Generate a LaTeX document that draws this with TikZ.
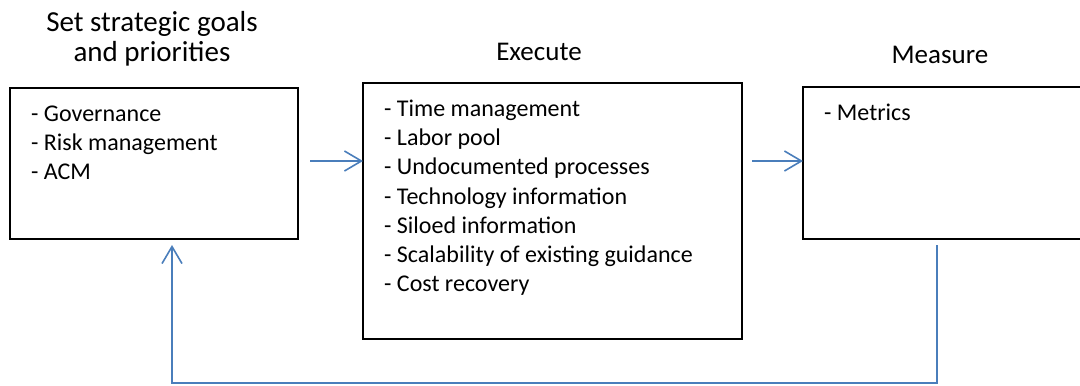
\documentclass[tikz,border=0pt]{standalone}
\usepackage{fontspec}
\setmainfont{Carlito}
\usetikzlibrary{arrows.meta}
\definecolor{flowblue}{HTML}{4A7EBB}
\begin{document}
\begin{tikzpicture}[x=1bp,y=-1bp,
  box/.style={draw=black, line width=2bp, inner sep=0pt, outer sep=0pt, anchor=north west},
  title/.style={font=\fontsize{27bp}{29.5bp}\selectfont, align=center, inner sep=0pt, anchor=base},
  bigtitle/.style={title, font=\fontsize{29bp}{30bp}\selectfont},
  items/.style={font=\fontsize{24bp}{29.2bp}\selectfont, align=left, inner sep=0pt, anchor=base west},
  flow/.style={draw=flowblue, line width=1.6bp, line join=miter,
    -{Straight Barb[length=17bp,width=20bp,line width=1.6bp]}}
]
\useasboundingbox (0,0) rectangle (1080,385);

% stage boxes
\node[box, minimum width=288bp, minimum height=151bp] (goals) at (10,88) {};
\node[box, minimum width=379bp, minimum height=256bp] (exec) at (363,83) {};
\node[box, minimum width=290bp, minimum height=152bp] (measure) at (803,87) {};

% stage titles (a multi-line node sits on the baseline of its last line)
\node[bigtitle] (goalsT) at (152,61) {Set strategic goals\\and priorities};
\node[title] (execT) at (539,60) {Execute};
\node[title] (measureT) at (940,63.3) {Measure};

% item lists, first baseline 33.5bp below the box top, 29.2bp per line
\node[items] (goalsL) at ([shift={(21,91.9)}]goals.north west)
  {- Governance\\- Risk management\\- ACM};
\node[items] (execL) at ([shift={(21,208.7)}]exec.north west)
  {- Time management\\- Labor pool\\- Undocumented processes\\- Technology information\\- Siloed information\\- Scalability of existing guidance\\- Cost recovery};
\node[items] (measureL) at ([shift={(21,33.5)}]measure.north west)
  {- Metrics};

% forward arrows
\coordinate (a1s) at (310,161);
\coordinate (a2s) at (752,161);
\draw[flow] (a1s) -- (exec.west |- a1s);
\draw[flow] (a2s) -- (measure.west |- a2s);

% feedback loop
\coordinate (fbS) at (937,245);
\coordinate (fbTurn) at (937,383);
\coordinate (fbE) at (172,245);
\draw[flow] (fbS) -- (fbTurn) -| (fbE);
\end{tikzpicture}
\end{document}
